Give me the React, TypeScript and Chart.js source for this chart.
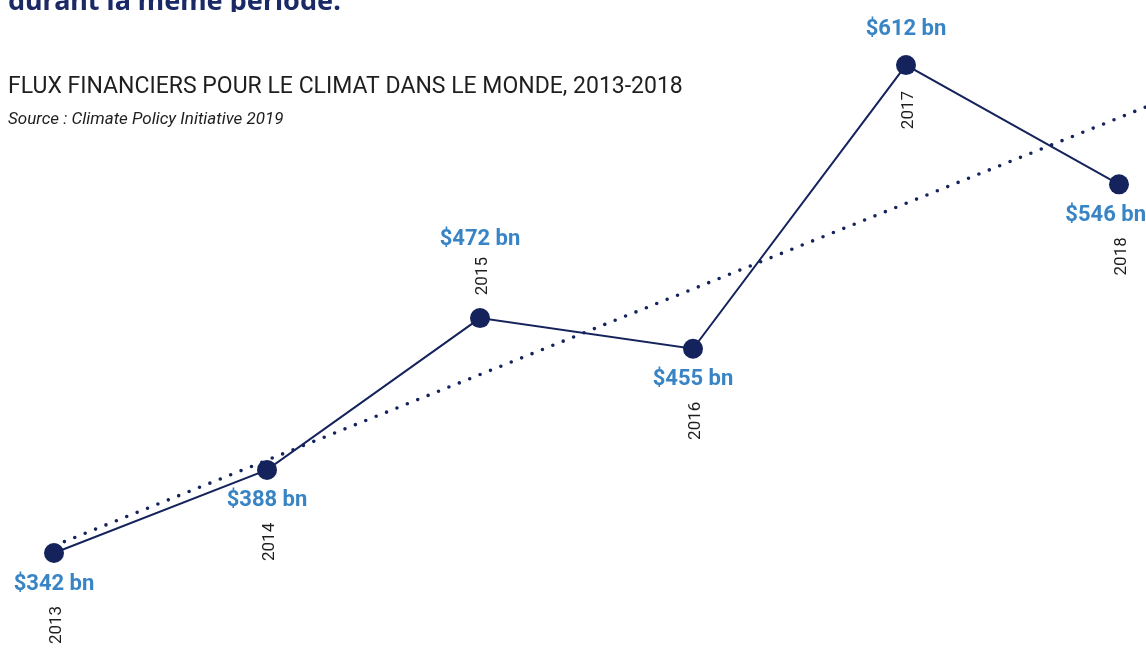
import React, { useEffect, useRef } from "react";
import { Chart, registerables } from "chart.js";

Chart.register(...registerables);

// ---- Data ----
const years: number[] = [2013, 2014, 2015, 2016, 2017, 2018];
const flows: number[] = [342, 388, 472, 455, 612, 546]; // US$ bn
// Dotted trend line: start at 2013 and its end at the right edge of the picture
const trendYears: number[] = [2013, 2018.13];
const trendValues: number[] = [346, 589];

// ---- Texts ----
const headingText = "durant la même période.";
const titleText = "FLUX FINANCIERS POUR LE CLIMAT DANS LE MONDE, 2013-2018";
const sourceText = "Source : Climate Policy Initiative 2019";

// ---- Label placement (style, not data) ----
const valueLabelSide: ("above" | "below")[] = ["below", "below", "above", "below", "above", "below"];
const yearLabelSide: ("above" | "below")[] = ["below", "below", "above", "below", "below", "below"];

const NAVY = "#15235c";
const BLUE = "#3884c5";
const W = 1146;
const H = 660;

const fmt = (v: number) => `$${v} bn`;

const textPlugin = {
  id: "infographicText",
  afterDatasetsDraw(chart: any) {
    const ctx: CanvasRenderingContext2D = chart.ctx;
    const xs = chart.scales.x;
    const ys = chart.scales.y;
    ctx.save();

    // Cut-off heading at the top
    ctx.save();
    ctx.beginPath();
    ctx.rect(0, 0, W, 12);
    ctx.clip();
    ctx.fillStyle = "#1b2a66";
    ctx.font = "bold 27px 'Noto Sans', Roboto, sans-serif";
    ctx.textAlign = "left";
    ctx.textBaseline = "alphabetic";
    ctx.fillText(headingText, 8, 10);
    ctx.restore();

    // Title and source
    ctx.fillStyle = "#1e1e1e";
    ctx.textAlign = "left";
    ctx.textBaseline = "middle";
    ctx.font = "23px Roboto, sans-serif";
    ctx.fillText(titleText, 8, 87);
    ctx.font = "italic 17px Roboto, sans-serif";
    ctx.fillText(sourceText, 8, 120);

    // Per-point labels
    years.forEach((yr, i) => {
      const px = xs.getPixelForValue(yr);
      const py = ys.getPixelForValue(flows[i]);
      const vSide = valueLabelSide[i];
      const ySide = yearLabelSide[i];
      let valueDy: number;
      let yearDy: number;
      if (vSide === "above" && ySide === "above") {
        valueDy = -79;
        yearDy = -42;
      } else if (vSide === "above") {
        valueDy = -36;
        yearDy = 45;
      } else {
        valueDy = 31;
        yearDy = 72;
      }

      // value label
      ctx.font = "bold 22px Roboto, sans-serif";
      ctx.fillStyle = BLUE;
      ctx.textAlign = "center";
      ctx.textBaseline = "middle";
      const label = fmt(flows[i]);
      const half = ctx.measureText(label).width / 2;
      const lx = Math.min(Math.max(px, half + 2), W - half);
      ctx.fillText(label, lx, py + valueDy);

      // year label (rotated)
      ctx.save();
      ctx.translate(px + 3, py + yearDy);
      ctx.rotate(-Math.PI / 2);
      ctx.font = "17px Roboto, sans-serif";
      ctx.fillStyle = "#1e1e1e";
      ctx.textAlign = "center";
      ctx.textBaseline = "middle";
      ctx.fillText(String(yr), 0, 0);
      ctx.restore();
    });

    ctx.restore();
  },
};

export default function App() {
  const canvasRef = useRef<HTMLCanvasElement | null>(null);

  useEffect(() => {
    document.body.style.margin = "0";
    const canvas = canvasRef.current;
    if (!canvas) return;

    const chart = new Chart(canvas, {
      type: "line",
      data: {
        datasets: [
          {
            label: "Trend",
            data: trendYears.map((x, i) => ({ x, y: trendValues[i] })),
            borderColor: NAVY,
            borderWidth: 3.6,
            borderDash: [0, 11.2],
            borderCapStyle: "round",
            pointRadius: 0,
            fill: false,
            order: 2,
          },
          {
            label: "Flux financiers",
            data: years.map((x, i) => ({ x, y: flows[i] })),
            borderColor: NAVY,
            borderWidth: 2,
            pointRadius: 10,
            pointHoverRadius: 10,
            pointBackgroundColor: NAVY,
            pointBorderColor: NAVY,
            pointBorderWidth: 0,
            fill: false,
            tension: 0,
            order: 1,
          },
        ],
      },
      options: {
        animation: false,
        responsive: false,
        devicePixelRatio: 1,
        layout: { padding: 0, autoPadding: false },
        events: [],
        plugins: {
          legend: { display: false },
          tooltip: { enabled: false },
          title: { display: false },
        },
        scales: {
          x: {
            type: "linear",
            display: false,
            min: 2012.7465,
            max: 2018.1268,
          },
          y: {
            type: "linear",
            display: false,
            min: 282.8,
            max: 648,
          },
        },
      },
      plugins: [textPlugin],
    } as any);

    return () => chart.destroy();
  }, []);

  return (
    <div style={{ width: W, height: H, background: "#ffffff" }}>
      <canvas ref={canvasRef} width={W} height={H} style={{ display: "block" }} />
    </div>
  );
}
